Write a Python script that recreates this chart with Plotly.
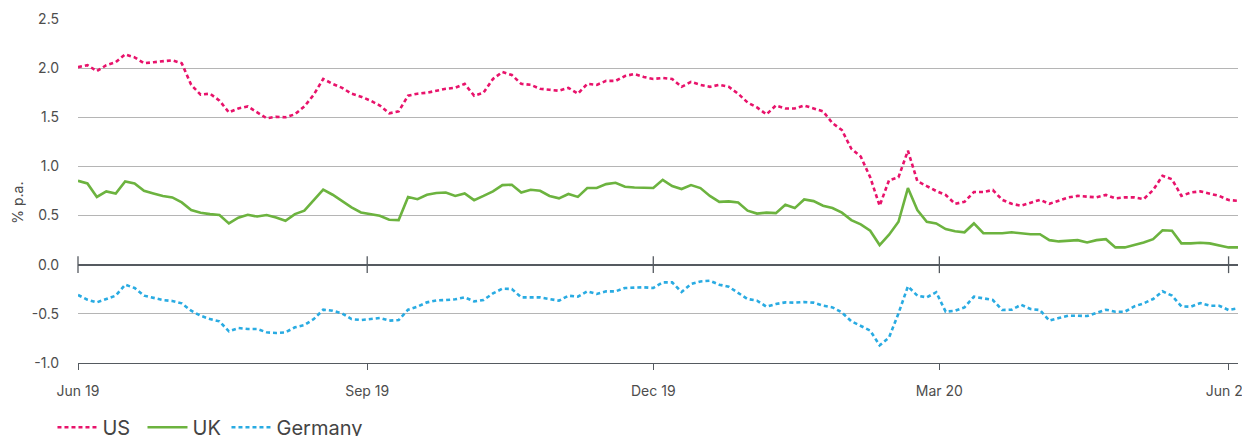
import pandas as pd
import plotly.graph_objects as go

dates = pd.date_range(start="2019-06-01", periods=124, freq="3D")

us = [2.01, 2.03, 1.97, 2.03, 2.06, 2.14, 2.11, 2.05, 2.06, 2.07, 2.08, 2.05, 1.83, 1.73, 1.74, 1.67,
      1.55, 1.59, 1.61, 1.55, 1.49, 1.505, 1.50, 1.53, 1.61, 1.73, 1.89, 1.84, 1.80, 1.74, 1.71, 1.67,
      1.62, 1.54, 1.56, 1.72, 1.74, 1.75, 1.77, 1.79, 1.80, 1.84, 1.72, 1.75, 1.89, 1.96, 1.93, 1.84,
      1.83, 1.79, 1.78, 1.77, 1.80, 1.74, 1.84, 1.83, 1.87, 1.87, 1.92, 1.94, 1.91, 1.89, 1.90, 1.89,
      1.81, 1.86, 1.83, 1.81, 1.83, 1.81, 1.74, 1.65, 1.60, 1.53, 1.62, 1.59, 1.59, 1.62, 1.59, 1.56,
      1.44, 1.37, 1.18, 1.10, 0.89, 0.60, 0.86, 0.89, 1.16, 0.85, 0.80, 0.75, 0.71, 0.62, 0.64, 0.74,
      0.74, 0.76, 0.66, 0.62, 0.60, 0.63, 0.66, 0.62, 0.65, 0.685, 0.70, 0.69, 0.685, 0.71, 0.675, 0.685,
      0.685, 0.668, 0.76, 0.905, 0.87, 0.70, 0.735, 0.746, 0.72, 0.70, 0.658, 0.65]

uk = [0.854, 0.827, 0.69, 0.746, 0.725, 0.847, 0.827, 0.752, 0.725, 0.70, 0.685, 0.634, 0.556, 0.529, 0.515, 0.505,
      0.42, 0.478, 0.508, 0.49, 0.505, 0.48, 0.447, 0.515, 0.55, 0.657, 0.763, 0.712, 0.644, 0.583, 0.532, 0.515,
      0.498, 0.458, 0.454, 0.69, 0.667, 0.712, 0.729, 0.735, 0.70, 0.725, 0.657, 0.70, 0.746, 0.81, 0.814, 0.735,
      0.763, 0.752, 0.70, 0.675, 0.72, 0.69, 0.78, 0.78, 0.82, 0.834, 0.793, 0.786, 0.783, 0.78, 0.864, 0.80,
      0.77, 0.81, 0.78, 0.70, 0.64, 0.644, 0.634, 0.55, 0.52, 0.53, 0.525, 0.61, 0.576, 0.664, 0.647, 0.60,
      0.576, 0.53, 0.454, 0.41, 0.346, 0.20, 0.305, 0.437, 0.78, 0.556, 0.437, 0.42, 0.363, 0.34, 0.33, 0.42,
      0.32, 0.32, 0.32, 0.33, 0.32, 0.31, 0.31, 0.25, 0.237, 0.244, 0.25, 0.227, 0.25, 0.26, 0.176, 0.176,
      0.20, 0.227, 0.26, 0.35, 0.345, 0.217, 0.217, 0.224, 0.217, 0.20, 0.176, 0.176]

germany = [-0.308, -0.356, -0.383, -0.349, -0.315, -0.203, -0.237, -0.315, -0.339, -0.359, -0.369, -0.393,
           -0.468, -0.519, -0.553, -0.576, -0.678, -0.644, -0.654, -0.654, -0.688, -0.695, -0.688, -0.637,
           -0.614, -0.553, -0.458, -0.468, -0.495, -0.553, -0.563, -0.556, -0.542, -0.569, -0.563, -0.458,
           -0.427, -0.383, -0.363, -0.359, -0.352, -0.332, -0.373, -0.359, -0.292, -0.244, -0.247, -0.332,
           -0.332, -0.332, -0.349, -0.366, -0.315, -0.325, -0.271, -0.298, -0.271, -0.271, -0.237, -0.230,
           -0.230, -0.237, -0.18, -0.18, -0.278, -0.197, -0.17, -0.163, -0.203, -0.224, -0.29, -0.349,
           -0.366, -0.427, -0.40, -0.383, -0.386, -0.38, -0.386, -0.417, -0.434, -0.485, -0.576, -0.62,
           -0.67, -0.82, -0.74, -0.495, -0.22, -0.315, -0.332, -0.28, -0.478, -0.468, -0.434, -0.325,
           -0.342, -0.359, -0.461, -0.458, -0.407, -0.451, -0.461, -0.569, -0.542, -0.519, -0.519, -0.522,
           -0.49, -0.458, -0.478, -0.478, -0.424, -0.393, -0.349, -0.271, -0.315, -0.424, -0.427, -0.39,
           -0.417, -0.417, -0.461, -0.444]

tick_dates = ["2019-06-01", "2019-09-01", "2019-12-01", "2020-03-01", "2020-06-01"]
tick_labels = ["Jun 19", "Sep 19", "Dec 19", "Mar 20", "Jun 20"]
y_ticks = [-1.0, -0.5, 0.0, 0.5, 1.0, 1.5, 2.0, 2.5]
y_labels = ["-1.0", "-0.5", "0.0", "0.5", "1.0", "1.5", "2.0", "2.5"]

FONT = "Inter, 'Open Sans', sans-serif"
AXIS = "#555a60"

fig = go.Figure()
fig.add_trace(go.Scatter(x=dates, y=us, name="US", mode="lines", legend="legend",
                         line=dict(color="#e8136b", width=2.6, dash="4px,3px")))
fig.add_trace(go.Scatter(x=dates, y=uk, name="UK", mode="lines", legend="legend2",
                         line=dict(color="#6cb33f", width=2.6)))
fig.add_trace(go.Scatter(x=dates, y=germany, name="Germany", mode="lines", legend="legend3",
                         line=dict(color="#29abe2", width=2.6, dash="4px,3px")))
# ticks crossing the zero line
fig.add_trace(go.Scatter(x=tick_dates, y=[0] * len(tick_dates), mode="markers", showlegend=False,
                         hoverinfo="skip", cliponaxis=False,
                         marker=dict(symbol="line-ns-open", size=12, color=AXIS,
                                     line=dict(color=AXIS, width=1.3))))

def leg(x):
    return dict(orientation="h", x=x, y=-0.13, xanchor="left", yanchor="top",
                font=dict(size=20, color="#444", family=FONT),
                itemwidth=40, bgcolor="rgba(0,0,0,0)")

fig.update_layout(
    width=1242, height=436,
    margin=dict(l=78, r=4, t=19, b=73, autoexpand=False),
    paper_bgcolor="white", plot_bgcolor="white",
    font=dict(family=FONT, color="#4d4d4d", size=14),
    showlegend=True,
    legend=leg(-0.022),
    legend2=leg(0.0556),
    legend3=leg(0.128),
    xaxis=dict(type="date", range=["2019-06-01", "2020-06-04"],
               tickvals=tick_dates, ticktext=tick_labels, ticklabeloverflow="allow",
               showgrid=False, showline=True, linecolor=AXIS, linewidth=1.3,
               ticks="outside", ticklen=6, tickcolor=AXIS, tickwidth=1.3,
               ticklabelstandoff=9, tickfont=dict(size=14, color="#4d4d4d"), zeroline=False),
    yaxis=dict(range=[-1.0, 2.5], tickvals=y_ticks, ticktext=y_labels,
               showgrid=True, gridcolor="#b5b5b5", gridwidth=1,
               zeroline=True, zerolinecolor=AXIS, zerolinewidth=1.5,
               showline=False, ticks="", ticklabelstandoff=18,
               tickfont=dict(size=14, color="#4d4d4d")),
    annotations=[dict(text="% p.a.", xref="paper", yref="paper", x=-0.0517, y=0.466,
                      xanchor="center", yanchor="middle",
                      textangle=-90, showarrow=False, font=dict(size=14, color="#4d4d4d"))],
)

fig.write_html("out.html")
